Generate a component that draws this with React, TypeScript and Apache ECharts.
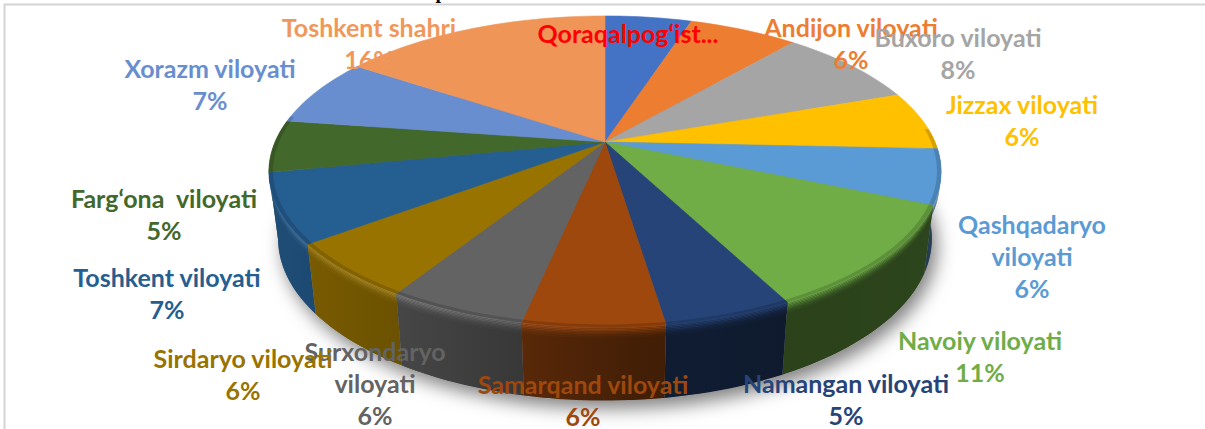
import React, { useEffect, useRef } from "react";
import * as echarts from "echarts";

const regions = ["Qoraqalpog‘ist...", "Andijon viloyati", "Buxoro viloyati", "Jizzax viloyati", "Qashqadaryo\nviloyati", "Navoiy viloyati", "Namangan viloyati", "Samarqand viloyati", "Surxondaryo\nviloyati", "Sirdaryo viloyati", "Toshkent viloyati", "Farg‘ona  viloyati", "Xorazm viloyati", "Toshkent shahri"];
const shares = [5.0, 6.3, 8.3, 6.1, 5.7, 11.0, 5.2, 5.7, 5.6, 5.8, 7.2, 5.4, 7.1, 15.6];
const percentShown = [false, true, true, true, true, true, true, true, true, true, true, true, true, true];
const sliceColors = ["#4472C4", "#ED7D31", "#A5A5A5", "#FFC000", "#5B9BD5", "#70AD47", "#264478", "#9E480E", "#636363", "#997300", "#255E91", "#43682B", "#698ED0", "#EF9558"];
const labelColors = ["#FF0000", "#ED7D31", "#A5A5A5", "#FFC000", "#5B9BD5", "#70AD47", "#264478", "#9E480E", "#636363", "#997300", "#255E91", "#43682B", "#698ED0", "#F1975A"];
const labelCenters = [[628, 33], [851, 43], [958, 53], [1022, 120], [1032, 256], [980, 356], [846, 399], [583, 400], [375, 383], [243, 374], [167, 293], [164, 214], [210, 84], [369, 43]];

// perspective projection of the disc onto the page
const K = 0.19;
const TOP = { x: 605, y: 142, a: 330, b: 150 };
const BOTTOM = { x: 605, y: 208, a: 321, b: 156 };
const project = (p: { x: number; y: number; a: number; b: number }, deg: number, r = 1) => {
  const t = (deg * Math.PI) / 180;
  const u = r * Math.sin(t);
  const v = -r * Math.cos(t);
  const w = 1 - K * v;
  return [p.x + (p.a * u) / w, p.y + (p.b * v) / w];
};
const total = shares.reduce((s, v) => s + v, 0);
const startAngle = (i: number) => (shares.slice(0, i).reduce((s, v) => s + v, 0) / total) * 360;
const range = (a: number, b: number, step = 1.5) => {
  const out: number[] = [];
  for (let d = a; d < b; d += step) out.push(d);
  out.push(b);
  return out;
};
const rgb = (h: string) => [1, 3, 5].map((i) => parseInt(h.slice(i, i + 2), 16));
const mix = (a: number[], b: number[], t: number) => a.map((v, i) => v + (b[i] - v) * t);
const css = (c: number[]) => `rgb(${c.map((v) => Math.max(0, Math.min(255, Math.round(v)))).join(",")})`;

const SHADE = [[85, 0.42], [150, 0.38], [175, 0.42], [190, 0.55], [210, 0.7], [235, 0.8], [280, 0.85]];
const shadeAt = (deg: number) => {
  for (let i = 1; i < SHADE.length; i++) {
    if (deg <= SHADE[i][0]) {
      const t = (deg - SHADE[i - 1][0]) / (SHADE[i][0] - SHADE[i - 1][0]);
      return SHADE[i - 1][1] + (SHADE[i][1] - SHADE[i - 1][1]) * Math.max(0, t);
    }
  }
  return SHADE[SHADE.length - 1][1];
};
const wallPoint = (deg: number, t: number) => {
  const a = project(TOP, deg);
  const b = project(BOTTOM, deg);
  return [a[0] + (b[0] - a[0]) * t, a[1] + (b[1] - a[1]) * t];
};
// rim-to-base bands: [from, to, how much of the lit face colour remains]
const BANDS = [[0, 1, 0], [0, 0.02, 0.85], [0.02, 0.04, 0.72], [0.04, 0.06, 0.56], [0.06, 0.08, 0.4], [0.08, 0.1, 0.26], [0.1, 0.125, 0.14], [0.125, 0.15, 0.06]];

const renderWall = (params: any) => {
  const i = params.dataIndex;
  const a = Math.max(startAngle(i), 85);
  const b = Math.min(startAngle(i + 1), 262);
  if (b <= a) return { type: "group", children: [] };
  const base = rgb(sliceColors[i]);
  const angles = range(a, b);
  // walls nearer the front of the disc are painted last
  const depth = 200 - Math.abs((a + b) / 2 - 180);
  const children = BANDS.map(([t0, t1, lit], n) => {
    const upper = angles.map((d) => wallPoint(d, t0));
    const lower = angles.map((d) => wallPoint(d, t1)).reverse();
    const x0 = Math.min(upper[0][0], upper[upper.length - 1][0]);
    const x1 = Math.max(upper[0][0], upper[upper.length - 1][0]);
    const span = Math.max(1, x1 - x0);
    const stops = angles
      .filter((_, k) => k % 3 === 0 || k === angles.length - 1)
      .map((d) => {
        const x = wallPoint(d, t0)[0];
        const f = shadeAt(d);
        const left = d > 180 ? Math.min(1, (d - 180) / 30) * 0.18 : 0;
        const c = mix(base.map((v) => v * f), base.map((v) => v + (255 - v) * left), lit);
        return { offset: Math.max(0, Math.min(1, (x - x0) / span)), color: css(c) };
      })
      .sort((p, q) => p.offset - q.offset);
    return {
      type: "polygon",
      z2: depth * 20 + n,
      shape: { points: [...upper, ...lower] },
      style: {
        fill: { type: "linear", x: x0, y: 0, x2: x1, y2: 0, global: true, colorStops: stops },
      },
      silent: true,
    };
  });
  return { type: "group", children };
};

const renderFace = (params: any) => {
  const i = params.dataIndex;
  const a = startAngle(i);
  const b = startAngle(i + 1);
  const color = sliceColors[i];
  const angles = range(a, b);
  const rim = angles.map((d) => project(TOP, d));
  const children: any[] = [
    {
      type: "polygon",
      shape: { points: [[TOP.x, TOP.y], ...rim] },
      style: { fill: color, stroke: color, lineWidth: 0.6 },
      silent: true,
    },
  ];
  const fa = Math.max(a, 85);
  const fb = Math.min(b, 280);
  if (fb > fa) {
    const band = range(fa, fb);
    const outer = band.map((d) => project(TOP, d));
    const inner = band.map((d) => project(TOP, d, 0.988)).reverse();
    const dim = mix(rgb(color), [0, 0, 0], 0.16);
    children.push({
      type: "polygon",
      shape: { points: [...outer, ...inner] },
      style: { fill: css(dim) },
      silent: true,
    });
  }
  return { type: "group", children };
};

const renderShadow = (params: any) => {
  if (params.dataIndex !== 0) return { type: "group", children: [] };
  return {
    type: "polygon",
    shape: { points: range(0, 360, 3).map((d) => project(BOTTOM, d)) },
    style: {
      fill: "#888888",
      shadowColor: "rgba(0,0,0,0.5)",
      shadowBlur: 18,
      shadowOffsetX: 5,
      shadowOffsetY: 8,
    },
    silent: true,
  };
};

const renderLabel = (params: any) => {
  const i = params.dataIndex;
  const text = regions[i] + (percentShown[i] ? `\n${Math.round(shares[i])}%` : "");
  return {
    type: "text",
    x: labelCenters[i][0],
    y: labelCenters[i][1],
    silent: true,
    style: {
      text,
      fill: labelColors[i],
      font: "bold 25px Lato",
      lineHeight: 32,
      align: "center",
      verticalAlign: "middle",
    },
  };
};

export default function App() {
  const ref = useRef<HTMLDivElement>(null);
  useEffect(() => {
    const chart = echarts.init(ref.current!, undefined, { renderer: "svg" });
    const layer = (name: string, renderItem: any, z: number) => ({
      type: "custom",
      name,
      coordinateSystem: "none",
      data: shares,
      renderItem,
      z,
      silent: true,
    });
    chart.setOption({
      animation: false,
      backgroundColor: "#ffffff",
      graphic: [
        {
          type: "text",
          x: 441,
          y: -19,
          z: 0,
          silent: true,
          style: { text: "p", fill: "#000000", font: "bold 20px 'Liberation Serif'", align: "center", verticalAlign: "top" },
        },
        {
          type: "rect",
          z: 1,
          silent: true,
          shape: { x: 4.5, y: 4.5, width: 1400, height: 600 },
          style: { fill: "none", stroke: "#d4d4d4", lineWidth: 2 },
        },
      ],
      series: [
        layer("shadow", renderShadow, 2),
        layer("walls", renderWall, 3),
        layer("faces", renderFace, 4),
        layer("labels", renderLabel, 5),
      ],
    } as any);
    return () => chart.dispose();
  }, []);
  return <div ref={ref} style={{ position: "fixed", left: 0, top: 0, width: 1205, height: 429 }} />;
}
